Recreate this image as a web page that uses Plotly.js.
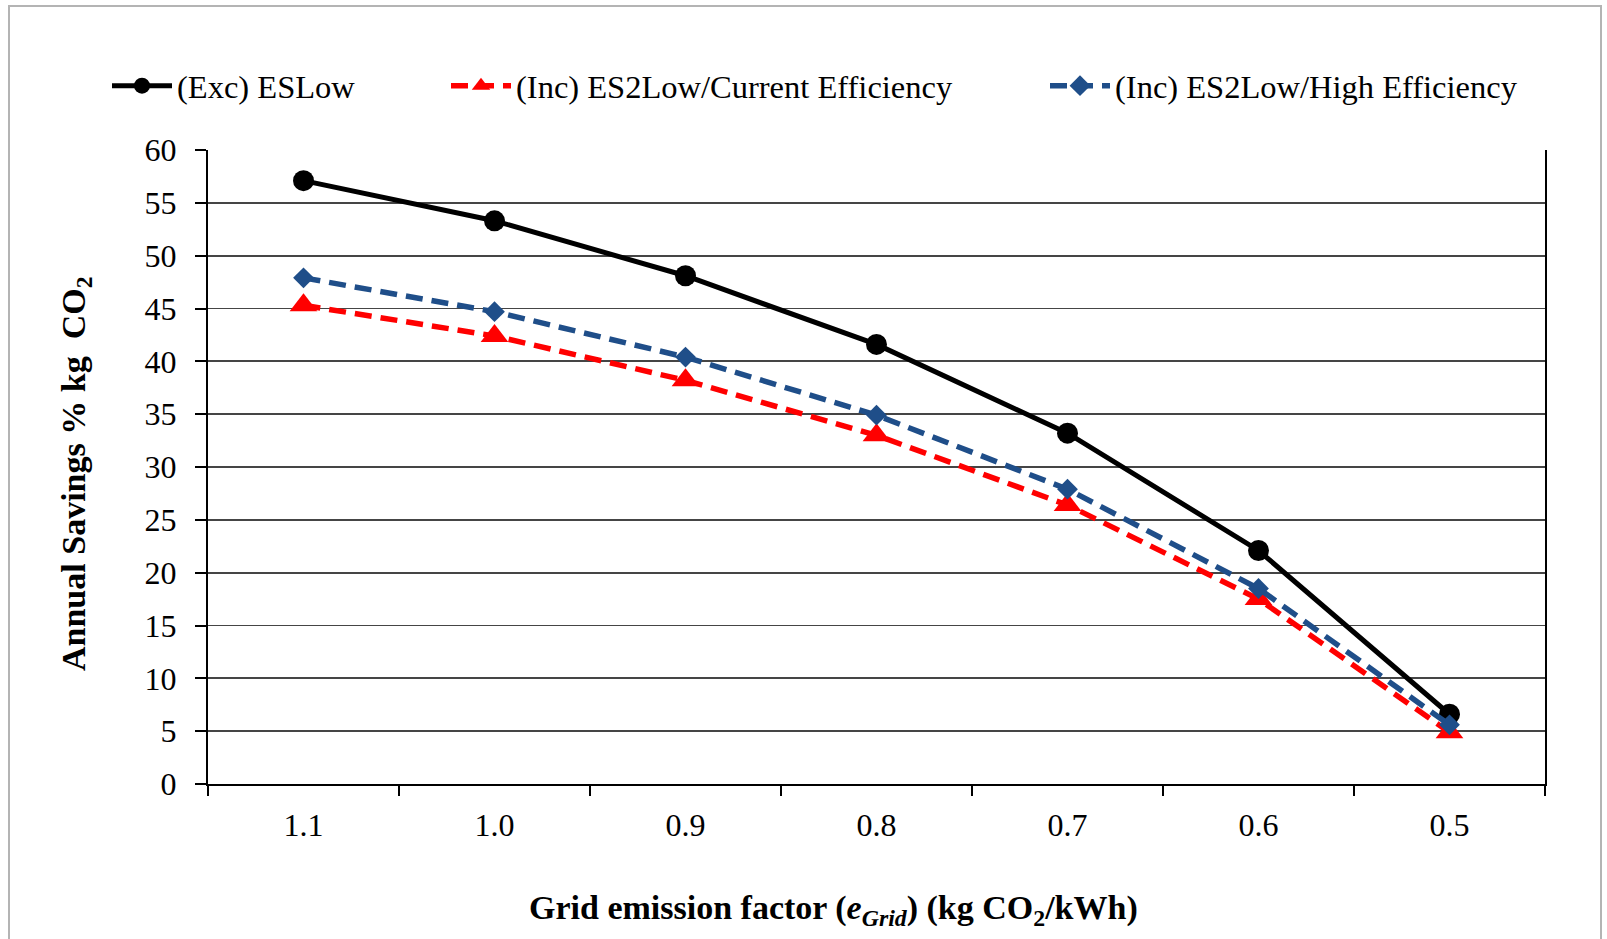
<!DOCTYPE html>
<html>
<head>
<meta charset="utf-8">
<script src="https://cdn.plot.ly/plotly-3.0.1.min.js"></script>
<style>
  html, body { margin: 0; padding: 0; background: #ffffff; }
  #wrap { position: relative; width: 1607px; height: 939px; }
  #chart { position: absolute; left: 0; top: 0; width: 1607px; height: 939px; }
  #frame { position: absolute; left: 8px; top: 5px; width: 1594px; height: 940px;
           border: 2px solid #b4b4b4; pointer-events: none; box-sizing: border-box; }
</style>
</head>
<body>
<div id="wrap">
  <div id="chart"></div>
  <div id="frame"></div>
</div>
<script>
// Grid emission factor categories (kg CO2/kWh)
const gridFactors = ['1.1', '1.0', '0.9', '0.8', '0.7', '0.6', '0.5'];

// Annual savings % kg CO2
const excESLow = [57.1, 53.3, 48.1, 41.6, 33.2, 22.1, 6.6];
const incCurrentEff = [45.3, 42.4, 38.2, 33.0, 26.4, 17.5, 4.9];
const incHighEff = [47.9, 44.7, 40.4, 34.9, 27.9, 18.5, 5.6];

const seriesNames = ['(Exc) ESLow', '(Inc) ES2Low/Current Efficiency', '(Inc) ES2Low/High Efficiency'];
const xTitle = 'Grid emission factor (<i>e<sub>Grid</sub></i>) (kg CO<sub>2</sub>/kWh)';
const yTitle = 'Annual Savings % kg  CO<sub>2</sub>';

const FONT = 'Liberation Serif, Times New Roman, serif';

const traces = [
  {
    x: gridFactors, y: excESLow, name: seriesNames[0], type: 'scatter', mode: 'lines+markers',
    line: {color: '#000000', width: 5},
    marker: {symbol: 'circle', size: 21, color: '#000000'},
    legend: 'legend'
  },
  {
    x: gridFactors, y: incCurrentEff, name: seriesNames[1], type: 'scatter', mode: 'lines+markers',
    line: {color: '#ff0000', width: 5.5, dash: '17px,9px'},
    marker: {symbol: 'triangle-up', size: 24, color: '#ff0000'},
    legend: 'legend2'
  },
  {
    x: gridFactors, y: incHighEff, name: seriesNames[2], type: 'scatter', mode: 'lines+markers',
    line: {color: '#1f4e89', width: 5.5, dash: '17px,9px'},
    marker: {symbol: 'diamond', size: 16, color: '#1f4e89'},
    legend: 'legend3'
  }
];

const legendBase = {
  orientation: 'h', xref: 'container', yref: 'container',
  xanchor: 'left', yanchor: 'middle', y: 1 - 86 / 939,
  font: {family: FONT, size: 32.5, color: '#000000'},
  bgcolor: 'rgba(0,0,0,0)', borderwidth: 0, itemwidth: 60
};

const layout = {
  width: 1607, height: 939,
  paper_bgcolor: '#ffffff', plot_bgcolor: '#ffffff',
  margin: {l: 208, r: 62, t: 150, b: 155},
  font: {family: FONT, size: 32, color: '#000000'},
  showlegend: true,
  legend: Object.assign({}, legendBase, {x: 107 / 1607}),
  legend2: Object.assign({}, legendBase, {x: 446 / 1607}),
  legend3: Object.assign({}, legendBase, {x: 1045 / 1607}),
  xaxis: {
    type: 'category',
    categoryorder: 'array', categoryarray: gridFactors,
    range: [-0.5, 6.5],
    showgrid: false, zeroline: false,
    showline: true, linecolor: '#000000', linewidth: 2,
    ticks: 'outside', ticklen: 10, tickwidth: 2, tickcolor: '#000000',
    tickson: 'boundaries',
    ticklabelstandoff: 12,
    tickfont: {family: FONT, size: 32, color: '#000000'}
  },
  yaxis: {
    range: [0, 60], dtick: 5, tick0: 0,
    showgrid: true, gridcolor: '#454545', gridwidth: 1.8,
    zeroline: false,
    showline: true, linecolor: '#000000', linewidth: 2, mirror: true,
    ticks: 'outside', ticklen: 11, tickwidth: 2, tickcolor: '#000000',
    ticklabelstandoff: 12,
    tickfont: {family: FONT, size: 32, color: '#000000'}
  },
  annotations: [
    {
      text: xTitle, xref: 'paper', yref: 'paper',
      x: (833 - 208) / (1545 - 208), y: -(910 - 784) / (784 - 150),
      xanchor: 'center', yanchor: 'middle', showarrow: false,
      font: {family: FONT, size: 34, color: '#000000', weight: 'bold'}
    },
    {
      text: yTitle, xref: 'paper', yref: 'paper', textangle: -90,
      x: (76 - 208) / (1545 - 208), y: (784 - 474) / (784 - 150),
      xanchor: 'center', yanchor: 'middle', showarrow: false,
      font: {family: FONT, size: 34, color: '#000000', weight: 'bold'}
    }
  ]
};

Plotly.newPlot('chart', traces, layout, {displayModeBar: false, staticPlot: true});
</script>
</body>
</html>
